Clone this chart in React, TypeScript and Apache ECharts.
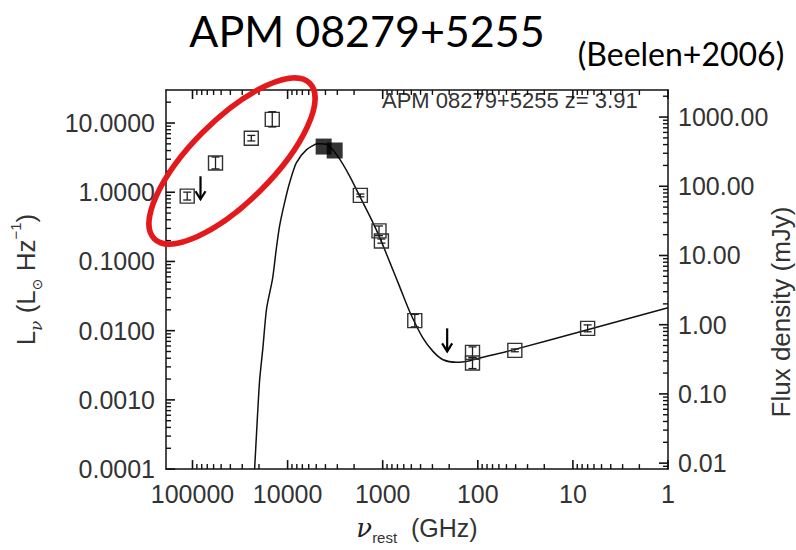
import React, { useEffect, useRef } from 'react';
import * as echarts from 'echarts';

// ---- Data (rest-frame frequency in GHz, luminosity density in L_sun Hz^-1) ----
const curveNu = [22230, 21330, 19720, 18200, 16630, 14390, 13150, 12140, 10760, 9530, 8100, 6350, 4800, 3790, 2960, 2220, 1746, 1371, 1076, 843, 662, 520, 377, 296, 232, 167.5, 121, 95.3, 42.5, 7.18, 1.0];
const curveL = [0.0001, 0.000287, 0.00187, 0.0056, 0.0209, 0.0564, 0.152, 0.327, 0.708, 1.37, 2.65, 4.10, 5.00, 4.84, 3.29, 1.70, 0.879, 0.455, 0.223, 0.0977, 0.0429, 0.0188, 0.00778, 0.00502, 0.0038, 0.00349, 0.00368, 0.00403, 0.00528, 0.01023, 0.02143];

const openNu = [113700, 57300, 24100, 14500, 1718, 1094, 1032, 460, 113.7, 113.7, 40.8, 7.0];
const openL = [0.88, 2.65, 6.04, 11.3, 0.90, 0.277, 0.197, 0.01396, 0.00485, 0.00341, 0.00519, 0.0108];
const openErrDex = [0.057, 0.086, 0.04, 0.11, 0.02, 0.07, 0.03, 0.09, 0.08, 0.08, 0.02, 0.05];

const filledNu = [4180, 3200];
const filledL = [4.57, 4.01];

const limitNu = [82400, 210];
const limitL = [1.70, 0.0108];

// ---- Axes ----
const X_MIN = 1;
const X_MAX = 190000;
const Y_MIN = 0.0001;
const Y_MAX = 30;
const FLUX_PER_L = 82; // mJy per (L_sun Hz^-1)

const xMajor = [1, 10, 100, 1000, 10000, 100000];
const xTickLabels = ['1', '10', '100', '1000', '10000', '100000'];
const yMajor = [0.0001, 0.001, 0.01, 0.1, 1, 10];
const yTickLabels = ['0.0001', '0.0010', '0.0100', '0.1000', '1.0000', '10.0000'];
const fluxMajor = [0.01, 0.1, 1, 10, 100, 1000];
const fluxTickLabels = ['0.01', '0.10', '1.00', '10.00', '100.00', '1000.00'];

function labelLookup(values: number[], labels: string[]) {
  return (v: number) => {
    for (let i = 0; i < values.length; i++) {
      if (Math.abs(Math.log10(v) - Math.log10(values[i])) < 1e-6) return labels[i];
    }
    return '';
  };
}

// tick marks of a log axis: [value, isMajor]
function logTicks(lo: number, hi: number, majors: number[]): number[][] {
  const out: number[][] = [];
  majors.forEach((m) => { if (m >= lo && m <= hi) out.push([m, 1]); });
  const d0 = Math.floor(Math.log10(lo)) - 1;
  const d1 = Math.ceil(Math.log10(hi)) + 1;
  for (let d = d0; d <= d1; d++) {
    for (let k = 2; k <= 9; k++) {
      const v = k * Math.pow(10, d);
      if (v > lo * 1.0001 && v < hi * 0.9999) out.push([v, 0]);
    }
  }
  return out;
}

const AX = '#111111';
const TXT = '#333';
const TICK_FONT = 'Liberation Sans';
const MAJOR_LEN = 9;
const MINOR_LEN = 5;

export default function App() {
  const ref = useRef<HTMLDivElement>(null);

  useEffect(() => {
    if (!ref.current) return;
    const chart = echarts.init(ref.current, undefined, { renderer: 'svg' });

    const lineStyle = { color: AX, width: 1.5 };
    const tickStyle = (major: boolean) => ({ stroke: AX, lineWidth: major ? 1.6 : 1.4 });

    const xBase: any = {
      type: 'log', min: X_MIN, max: X_MAX, inverse: true,
      splitLine: { show: false },
      axisLine: { show: true, onZero: false, lineStyle },
      axisTick: { show: false },
      minorTick: { show: false },
    };
    const yBase: any = {
      type: 'log', min: Y_MIN, max: Y_MAX,
      splitLine: { show: false },
      axisLine: { show: true, onZero: false, lineStyle },
      axisTick: { show: false },
      minorTick: { show: false },
    };

    const tickLabelStyle = { fontFamily: TICK_FONT, fontSize: 25, color: TXT, showMinLabel: true };

    const xTickData = logTicks(X_MIN, X_MAX, xMajor).map((t) => [t[0], Y_MIN, t[1]]);
    const yTickData = logTicks(Y_MIN, Y_MAX, yMajor).map((t) => [X_MAX, t[0], t[1]]);
    const fTickData = logTicks(Y_MIN * FLUX_PER_L, Y_MAX * FLUX_PER_L, fluxMajor).map((t) => [X_MIN, t[0], t[1]]);

    const option: any = {
      animation: false,
      grid: { left: 166, right: 128, top: 90, bottom: 78 },
      xAxis: [
        {
          ...xBase, position: 'bottom',
          axisLabel: { show: true, formatter: labelLookup(xMajor, xTickLabels), margin: 12, ...tickLabelStyle, showMaxLabel: false },
          name: '{nu|ν}{sub|rest}{n|  (GHz)}',
          nameLocation: 'middle',
          nameGap: 40,
          nameTextStyle: {
            color: TXT, fontFamily: TICK_FONT, fontSize: 25, lineHeight: 34,
            rich: {
              nu: { fontFamily: 'DejaVu Serif', fontStyle: 'italic', fontSize: 26, lineHeight: 34, verticalAlign: 'middle', color: '#222' },
              sub: { fontFamily: TICK_FONT, fontSize: 15, lineHeight: 20, verticalAlign: 'bottom', color: TXT },
              n: { fontFamily: TICK_FONT, fontSize: 25, lineHeight: 34, verticalAlign: 'middle', color: TXT },
            },
          },
        },
        {
          ...xBase, position: 'top',
          axisLabel: { show: false },
        },
      ],
      yAxis: [
        {
          ...yBase, position: 'left',
          axisLabel: { show: true, formatter: labelLookup(yMajor, yTickLabels), margin: 11, ...tickLabelStyle, showMaxLabel: false },
          name: '{n|L}{sub|ν}{n| (L}{subo|⊙}{n| Hz}{sup|−1}{n|)}',
          nameLocation: 'middle',
          nameRotate: 90,
          nameGap: 122,
          nameTextStyle: {
            color: TXT, fontFamily: TICK_FONT, fontSize: 26, lineHeight: 36,
            rich: {
              n: { fontFamily: TICK_FONT, fontSize: 26, lineHeight: 36, verticalAlign: 'middle', color: TXT },
              sub: { fontFamily: 'DejaVu Serif', fontStyle: 'italic', fontSize: 17, lineHeight: 22, verticalAlign: 'bottom', color: TXT },
              subo: { fontFamily: 'DejaVu Sans', fontSize: 14, lineHeight: 22, verticalAlign: 'bottom', color: TXT },
              sup: { fontFamily: TICK_FONT, fontSize: 15, lineHeight: 22, verticalAlign: 'top', color: TXT },
            },
          },
        },
        {
          ...yBase, position: 'right',
          min: Y_MIN * FLUX_PER_L, max: Y_MAX * FLUX_PER_L,
          axisLabel: { show: true, formatter: labelLookup(fluxMajor, fluxTickLabels), margin: 10, ...tickLabelStyle, showMinLabel: false, showMaxLabel: false },
        },
      ],
      series: [
        // axis tick marks (bottom + top), placed through the x scale
        {
          type: 'custom', name: 'xTicks', silent: true, clip: false,
          xAxisIndex: 0, yAxisIndex: 0, encode: { x: 0, y: 1 },
          data: xTickData,
          renderItem: (params: any, api: any) => {
            const v = api.value(0);
            const major = api.value(2) === 1;
            const len = major ? MAJOR_LEN : MINOR_LEN;
            const b = api.coord([v, Y_MIN]);
            const t = api.coord([v, Y_MAX]);
            return {
              type: 'group',
              children: [
                { type: 'line', shape: { x1: b[0], y1: b[1], x2: b[0], y2: b[1] - len }, style: tickStyle(major) },
                { type: 'line', shape: { x1: t[0], y1: t[1], x2: t[0], y2: t[1] + len }, style: tickStyle(major) },
              ],
            };
          },
          z: 1,
        },
        // left axis tick marks
        {
          type: 'custom', name: 'yTicks', silent: true, clip: false,
          xAxisIndex: 0, yAxisIndex: 0, encode: { x: 0, y: 1 },
          data: yTickData,
          renderItem: (params: any, api: any) => {
            const major = api.value(2) === 1;
            const len = major ? MAJOR_LEN : MINOR_LEN;
            const p = api.coord([api.value(0), api.value(1)]);
            return { type: 'line', shape: { x1: p[0], y1: p[1], x2: p[0] + len, y2: p[1] }, style: tickStyle(major) };
          },
          z: 1,
        },
        // right (flux) axis tick marks
        {
          type: 'custom', name: 'fluxTicks', silent: true, clip: false,
          xAxisIndex: 0, yAxisIndex: 1, encode: { x: 0, y: 1 },
          data: fTickData,
          renderItem: (params: any, api: any) => {
            const major = api.value(2) === 1;
            const len = major ? MAJOR_LEN : MINOR_LEN;
            const p = api.coord([api.value(0), api.value(1)]);
            return { type: 'line', shape: { x1: p[0], y1: p[1], x2: p[0] - len, y2: p[1] }, style: tickStyle(major) };
          },
          z: 1,
        },
        {
          type: 'line',
          name: 'SED model',
          xAxisIndex: 0, yAxisIndex: 0,
          data: curveNu.map((n, i) => [n, curveL[i]]),
          showSymbol: false,
          smooth: 0.25,
          lineStyle: { color: '#111', width: 1.5 },
          z: 2,
        },
        {
          type: 'custom',
          name: 'Photometry',
          xAxisIndex: 0, yAxisIndex: 0,
          encode: { x: 0, y: 1 },
          data: openNu.map((n, i) => [n, openL[i], openErrDex[i]]),
          renderItem: (params: any, api: any) => {
            const nu = api.value(0) as number;
            const L = api.value(1) as number;
            const e = api.value(2) as number;
            const c = api.coord([nu, L]);
            const hi = api.coord([nu, L * Math.pow(10, e)]);
            const lo = api.coord([nu, L / Math.pow(10, e)]);
            const h = 7;
            const cap = 4;
            const es = { stroke: '#1e1e1e', lineWidth: 1.3 };
            return {
              type: 'group',
              children: [
                { type: 'rect', shape: { x: c[0] - h, y: c[1] - h, width: 2 * h, height: 2 * h }, style: { fill: 'none', stroke: '#333', lineWidth: 1.4 } },
                { type: 'line', shape: { x1: c[0], y1: hi[1], x2: c[0], y2: lo[1] }, style: es },
                { type: 'line', shape: { x1: c[0] - cap, y1: hi[1], x2: c[0] + cap, y2: hi[1] }, style: es },
                { type: 'line', shape: { x1: c[0] - cap, y1: lo[1], x2: c[0] + cap, y2: lo[1] }, style: es },
              ],
            };
          },
          z: 3,
        },
        {
          type: 'scatter',
          name: 'Filled',
          xAxisIndex: 0, yAxisIndex: 0,
          data: filledNu.map((n, i) => [n, filledL[i]]),
          symbol: 'rect',
          symbolSize: 16,
          itemStyle: { color: '#000' },
          z: 4,
        },
        {
          type: 'custom',
          name: 'Upper limits',
          xAxisIndex: 0, yAxisIndex: 0,
          encode: { x: 0, y: 1 },
          data: limitNu.map((n, i) => [n, limitL[i]]),
          renderItem: (params: any, api: any) => {
            const c = api.coord([api.value(0), api.value(1)]);
            const len = 23;
            const hw = 5;
            const hh = 8;
            return {
              type: 'group',
              children: [
                { type: 'line', shape: { x1: c[0], y1: c[1], x2: c[0], y2: c[1] + len }, style: { stroke: '#000', lineWidth: 2.2 } },
                { type: 'polyline', shape: { points: [[c[0] - hw, c[1] + len - hh], [c[0], c[1] + len], [c[0] + hw, c[1] + len - hh]] }, style: { stroke: '#000', lineWidth: 2.2, fill: 'none' } },
              ],
            };
          },
          z: 4,
        },
      ],
      graphic: [
        {
          type: 'text', x: 367, y: 30,
          style: { text: 'APM 08279+5255', fontFamily: 'Lato', fontSize: 43, fill: '#000', align: 'center', verticalAlign: 'middle' },
        },
        {
          type: 'text', x: 681, y: 53,
          style: { text: '(Beelen+2006)', fontFamily: 'Lato', fontSize: 32, fill: '#000', align: 'center', verticalAlign: 'middle' },
        },
        {
          type: 'text', x: 382, y: 100,
          style: { text: 'APM 08279+5255 z= 3.91', fontFamily: TICK_FONT, fontSize: 22, fill: TXT, align: 'left', verticalAlign: 'middle' },
        },
        {
          type: 'text', x: 781, y: 312, rotation: Math.PI / 2,
          style: { text: 'Flux density (mJy)', fontFamily: TICK_FONT, fontSize: 26, fill: TXT, align: 'center', verticalAlign: 'middle' },
        },
        {
          type: 'ellipse', x: 232, y: 161, rotation: Math.PI / 4,
          shape: { cx: 0, cy: 0, rx: 110, ry: 41 },
          style: { fill: 'none', stroke: '#e3191c', lineWidth: 5.5 },
          z: 100,
        },
      ],
    };

    chart.setOption(option);
    return () => chart.dispose();
  }, []);

  return (
    <div
      ref={ref}
      style={{ position: 'fixed', left: 0, top: 0, width: 796, height: 550, background: '#fff' }}
    />
  );
}
